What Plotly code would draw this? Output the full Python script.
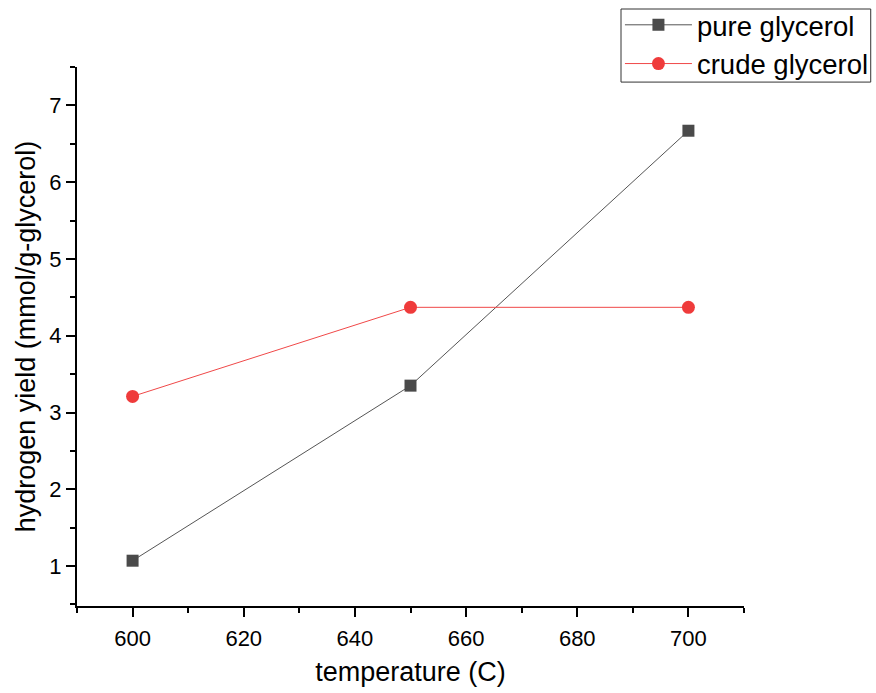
import plotly.graph_objects as go

temperature = [600, 650, 700]
pure_glycerol = [1.07, 3.35, 6.67]
crude_glycerol = [3.21, 4.37, 4.37]

FONT = "Liberation Sans, Arial, sans-serif"

fig = go.Figure()
fig.add_trace(go.Scatter(
    x=temperature, y=pure_glycerol, name="pure glycerol",
    mode="lines+markers",
    line=dict(color="#555555", width=1),
    marker=dict(symbol="square", size=12, color="#4a4a4a"),
))
fig.add_trace(go.Scatter(
    x=temperature, y=crude_glycerol, name="crude glycerol",
    mode="lines+markers",
    line=dict(color="#f04848", width=1),
    marker=dict(symbol="circle", size=13, color="#ef3b3b"),
))

axis_common = dict(
    showline=True, linecolor="black", linewidth=2, mirror=False,
    showgrid=False, zeroline=False,
    ticks="outside", ticklen=9, tickwidth=2, tickcolor="black",
    tickfont=dict(family=FONT, size=22, color="black"),
)

fig.update_xaxes(
    **axis_common,
    range=[590, 710], dtick=20, tick0=600,
    ticklabelstandoff=3,
    minor=dict(ticks="outside", ticklen=5, tickwidth=2, tickcolor="black", dtick=10, tick0=590),
    title=dict(text="temperature (C)", font=dict(family=FONT, size=27, color="black"), standoff=12),
)
fig.update_yaxes(
    **axis_common,
    range=[0.48, 7.5], dtick=1, tick0=1,
    ticklabelstandoff=0,
    minor=dict(ticks="outside", ticklen=5, tickwidth=2, tickcolor="black", dtick=0.5, tick0=0.5),
    title=dict(text="hydrogen yield (mmol/g-glycerol)", font=dict(family=FONT, size=27, color="black"), standoff=6),
)

fig.add_shape(
    type="rect", xref="paper", yref="paper",
    x0=0.8156, x1=1.190, y0=0.972, y1=1.1076,
    line=dict(color="#333333", width=1), fillcolor="rgba(0,0,0,0)", layer="above",
)

fig.update_layout(
    width=876, height=693,
    margin=dict(l=77, r=132, t=67, b=87, autoexpand=False),
    paper_bgcolor="white", plot_bgcolor="white",
    font=dict(family=FONT, color="black"),
    legend=dict(
        x=0.814, y=1.1235, xanchor="left", yanchor="top",
        borderwidth=0, bgcolor="rgba(0,0,0,0)",
        font=dict(family=FONT, size=27.5, color="black"),
        itemwidth=67, tracegroupgap=0,
    ),
)

fig.write_html("out.html")
